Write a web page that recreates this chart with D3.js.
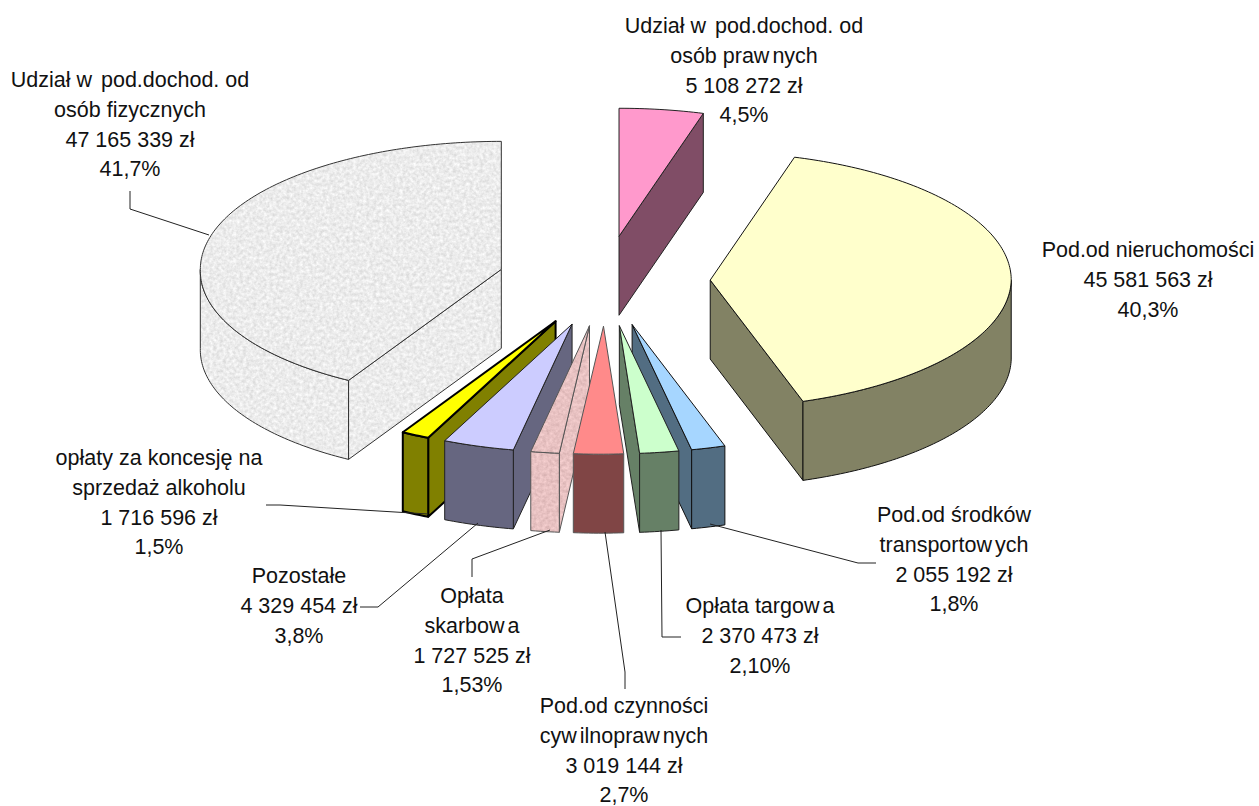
<!DOCTYPE html>
<html>
<head>
<meta charset="utf-8">
<script src="https://cdnjs.cloudflare.com/ajax/libs/d3/7.8.5/d3.min.js"></script>
<style>
html,body{margin:0;padding:0;background:#fff;}
svg{display:block;}
text{font-family:"Liberation Sans",Arial,sans-serif;font-size:21.5px;fill:#111;text-anchor:middle;white-space:pre;}
</style>
</head>
<body>
<svg id="chart" width="1259" height="806"></svg>
<script>
// ---- data (clockwise from 12 o'clock) ----
const categories = [
  ["Udział w pod.dochod. od","osób prawnych"],
  ["Pod.od nieruchomości"],
  ["Pod.od środków","transportowych"],
  ["Opłata targowa"],
  ["Pod.od czynności","cywilnoprawnych"],
  ["Opłata","skarbowa"],
  ["Pozostałe"],
  ["opłaty za koncesję na","sprzedaż alkoholu"],
  ["Udział w pod.dochod. od","osób fizycznych"]
];
const values = [5108272,45581563,2055192,2370473,3019144,1727525,4329454,1716596,47165339];
const amounts = ["5 108 272 zł","45 581 563 zł","2 055 192 zł","2 370 473 zł","3 019 144 zł","1 727 525 zł","4 329 454 zł","1 716 596 zł","47 165 339 zł"];
const percents = ["4,5%","40,3%","1,8%","2,10%","2,7%","1,53%","3,8%","1,5%","41,7%"];

// ---- styling ----
const topColors  = ["#FF99CC","#FFFFCC","#A6D6FF","#CCFFCC","#FF8A8A","#E8C4C4","#CCCCFF","#FFFF00","#EFEFEF"];
const sideColors = ["#804D66","#828264","#526D82","#668066","#804545","#E8C4C4","#666680","#808000","#EFEFEF"];
const textured   = [false,false,false,false,false,true,false,false,true];
const strokeW    = [1,1,1,1,1,1,1,2,1];
const strokeCol  = ["#222","#111","#111","#222","#555","#555","#222","#000","#333"];
const paintOrder = [8,0,1,2,3,7,6,5,4];

// ---- label layout: centre x, first baseline, leader polyline ----
const labelX = [744,1148,954,760,624,472,299,159,130];
const labelY = [33,257,522,613,713,603,583,465,87];
const leaders = [
  null, null,
  [[876,563],[858,563],[710,524]],
  [[681,637],[662,637],[661,530]],
  [[625,689],[625,672],[605,532]],
  [[472,577],[472,559],[550,530]],
  [[360,607],[378,607],[478,523]],
  [[266,505],[280,505],[428,514]],
  [[130,191],[130,209],[209,235]]
];
const lineStep = 29.8;

// ---- geometry ----
const cx = 604, cy = 281, explode = 0.353, depth = 79, frontLean = 3.5;
const px = d3.scaleLinear().domain([-1,1]).range([-301,301]);
const py = d3.scaleLinear().domain([-1,1]).range([-128,128]);
const pie = d3.pie().sort(null).startAngle(0).endAngle(2*Math.PI);
const arcs = pie(values);
const line = d3.line();
const svg = d3.select("#chart");

const defs = svg.append("defs");
function grain(id, mid, k){
  const f = defs.append("filter").attr("id",id)
    .attr("x","0").attr("y","0").attr("width","1").attr("height","1")
    .attr("color-interpolation-filters","sRGB");
  f.append("feTurbulence").attr("type","fractalNoise").attr("baseFrequency","0.3").attr("numOctaves",3).attr("seed",4).attr("result","n");
  const row = m => `0 ${k} 0 0 ${(m-k/2).toFixed(3)}`;
  f.append("feColorMatrix").attr("in","n").attr("type","matrix")
    .attr("values",`${row(mid[0])} ${row(mid[1])} ${row(mid[2])} 0 0 0 0 1`).attr("result","g");
  f.append("feComposite").attr("in","g").attr("in2","SourceAlpha").attr("operator","in");
}
grain("grainGray",[.925,.925,.925],0.2);
grain("grainPink",[.91,.76,.76],0.18);

paintOrder.forEach(i=>{
  const d = arcs[i], mid = (d.startAngle+d.endAngle)/2;
  const ax = cx + explode*px(Math.sin(mid)), ay = cy + explode*py(-Math.cos(mid));
  const rim = a => [ax+px(Math.sin(a))-frontLean*Math.max(0,-Math.cos(a)), ay+py(-Math.cos(a))];
  const down = p => [p[0],p[1]+depth];
  const sweep = (a0,a1) => {
    const n = Math.max(2,Math.ceil((a1-a0)/0.017));
    return d3.range(n+1).map(k=>rim(a0+(a1-a0)*k/n));
  };
  const g = svg.append("g").attr("class","slice");
  const face = (pts,fill)=>{
    const p = line(pts)+"Z";
    if(textured[i]){
      g.append("path").attr("d",p).attr("fill",fill)
        .attr("filter",`url(#${i===8?"grainGray":"grainPink"})`);
      g.append("path").attr("d",p).attr("fill","none")
        .attr("stroke",strokeCol[i]).attr("stroke-width",strokeW[i]).attr("stroke-linejoin","round");
    } else {
      g.append("path").attr("d",p).attr("fill",fill)
        .attr("stroke",strokeCol[i]).attr("stroke-width",strokeW[i]).attr("stroke-linejoin","round");
    }
  };
  const apex=[ax,ay], PI=Math.PI;
  // radial cut walls
  if(d.endAngle<PI){const e=rim(d.endAngle);face([apex,e,down(e),down(apex)],sideColors[i]);}
  if(d.startAngle>PI){const s=rim(d.startAngle);face([apex,s,down(s),down(apex)],sideColors[i]);}
  // outer wall
  const w0=Math.max(d.startAngle,PI/2), w1=Math.min(d.endAngle,3*PI/2);
  if(w1>w0){
    const top=sweep(w0,w1);
    face(top.concat(top.slice().reverse().map(down)),sideColors[i]);
  }
  // top face
  face([apex].concat(sweep(d.startAngle,d.endAngle)),topColors[i]);
});

// leaders
svg.append("g").selectAll("path").data(leaders.filter(Boolean)).join("path")
  .attr("d",p=>line(p)).attr("fill","none").attr("stroke","#222").attr("stroke-width",1);

// labels: the source renderer leaves a small gap after every "w"
function addLine(t,x,y,s){
  const el = t.append("text").attr("x",x).attr("y",y);
  s.split(/(?<=w)(?=.)/).forEach((chunk,k)=>{
    el.append("tspan").attr("dx",k?3:0).text(chunk);
  });
}
categories.forEach((c,i)=>{
  const t = svg.append("g").attr("class","label");
  c.concat([amounts[i],percents[i]]).forEach((s,k)=>addLine(t,labelX[i],labelY[i]+k*lineStep,s));
});
</script>
</body>
</html>
